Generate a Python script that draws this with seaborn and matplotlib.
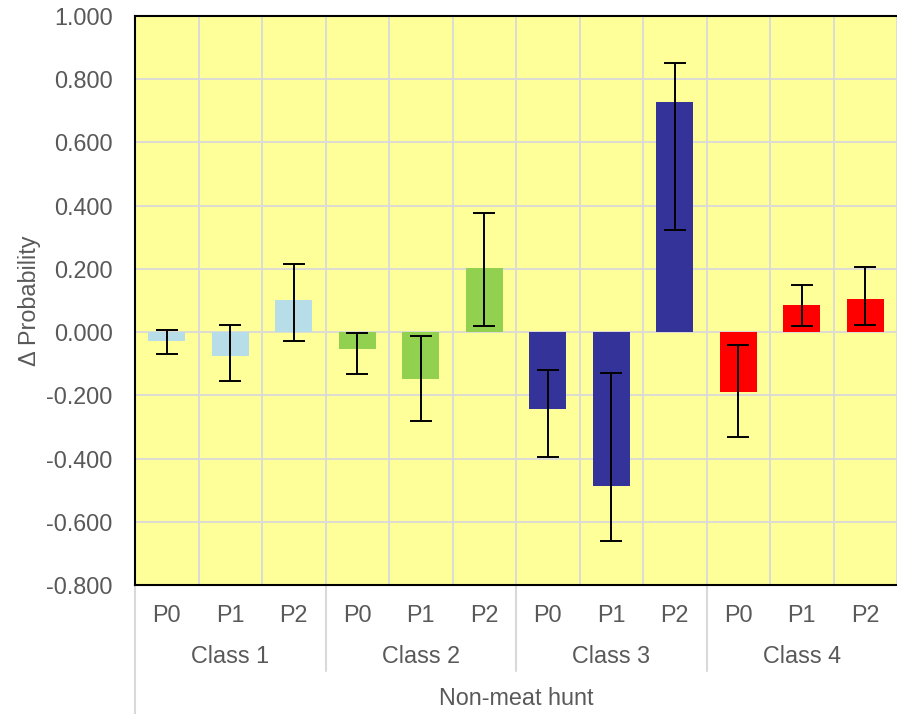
import matplotlib
matplotlib.use("Agg")
import matplotlib.pyplot as plt
import matplotlib.transforms as mtransforms
from matplotlib.lines import Line2D
import numpy as np
import pandas as pd
import seaborn as sns

# ---- data ----
classes = ["Class 1", "Class 2", "Class 3", "Class 4"]
periods = ["P0", "P1", "P2"]
group_label = "Non-meat hunt"
values = [-0.028, -0.075, 0.101,
          -0.053, -0.148, 0.202,
          -0.244, -0.486, 0.728,
          -0.189, 0.085, 0.104]
err_low = [-0.068, -0.156, -0.028,
           -0.131, -0.281, 0.019,
           -0.395, -0.662, 0.324,
           -0.331, 0.019, 0.022]
err_high = [0.008, 0.022, 0.217,
            -0.004, -0.012, 0.377,
            -0.120, -0.130, 0.852,
            -0.041, 0.149, 0.207]
class_colors = ["#B7DEE8", "#92D050", "#333399", "#FF0000"]
y_ticks = [-0.8, -0.6, -0.4, -0.2, 0.0, 0.2, 0.4, 0.6, 0.8, 1.0]
y_label = "\u0394 Probability"

sns.set_theme(style="white")
plt.rcParams["font.family"] = ["Liberation Sans", "DejaVu Sans"]
FS = 16.8
GRAY = "#595959"
GRID = "#D9D9D9"

keys = [f"{c}|{p}" for c in classes for p in periods]
df = pd.DataFrame({"key": keys, "value": values})
palette = {k: class_colors[i // 3] for i, k in enumerate(keys)}

fig = plt.figure(figsize=(8.97, 7.14), dpi=100)
ax = fig.add_axes([135 / 897, (714 - 585) / 714, (897 - 135) / 897, 569 / 714])
ax.set_facecolor("#FFFF99")

sns.barplot(data=df, x="key", y="value", hue="key", palette=palette,
            legend=False, width=0.58, saturation=1, linewidth=0,
            edgecolor="none", ax=ax, zorder=3)

xs = np.arange(len(keys))
vals = np.array(values)
lo = vals - np.array(err_low)
hi = np.array(err_high) - vals
ax.errorbar(xs, vals, yerr=[lo, hi], fmt="none", ecolor="black",
            elinewidth=1.4, capsize=8, capthick=1.4, zorder=4)

ax.set_xlim(-0.5, len(keys) - 0.5)
ax.set_ylim(-0.8, 1.0)
ax.set_yticks(y_ticks)
ax.set_yticklabels([f"{abs(v):.3f}" if abs(v) < 1e-9 else f"{v:.3f}" for v in y_ticks])
ax.set_xticks(xs)
ax.set_xticklabels(periods * len(classes))
ax.set_xticks(np.arange(-0.5, len(keys), 1.0), minor=True)
ax.tick_params(axis="both", which="both", length=0, labelsize=FS, labelcolor=GRAY)
ax.tick_params(axis="y", pad=16)
ax.tick_params(axis="x", pad=14)
ax.grid(True, axis="y", which="major", color=GRID, lw=1.3, zorder=0)
ax.grid(True, axis="x", which="minor", color=GRID, lw=1.3, zorder=0)
ax.grid(False, axis="x", which="major")
ax.set_axisbelow(True)
ax.set_xlabel("")
ax.set_ylabel(y_label, fontsize=FS, color=GRAY)
ax.yaxis.set_label_coords(-0.124, 0.5)

for side in ["left", "top", "bottom"]:
    ax.spines[side].set_color("black")
    ax.spines[side].set_linewidth(1.5)
    ax.spines[side].set_zorder(5)
ax.spines["right"].set_visible(False)

trans = mtransforms.blended_transform_factory(ax.transData, ax.transAxes)
for i, c in enumerate(classes):
    ax.text(i * 3 + 1, -0.1265, c, transform=trans, ha="center", va="center",
            fontsize=FS, color=GRAY)
for b in [2.5, 5.5, 8.5]:
    ax.add_line(Line2D([b, b], [0, -0.151], transform=trans, color=GRID,
                       lw=1.5, clip_on=False))
ax.add_line(Line2D([-0.5, -0.5], [0, -0.23], transform=trans, color=GRID,
                   lw=1.5, clip_on=False))
ax.text((len(keys) - 1) / 2, -0.1986, group_label, transform=trans,
        ha="center", va="center", fontsize=FS, color=GRAY)

fig.savefig("out.png", dpi=100)
